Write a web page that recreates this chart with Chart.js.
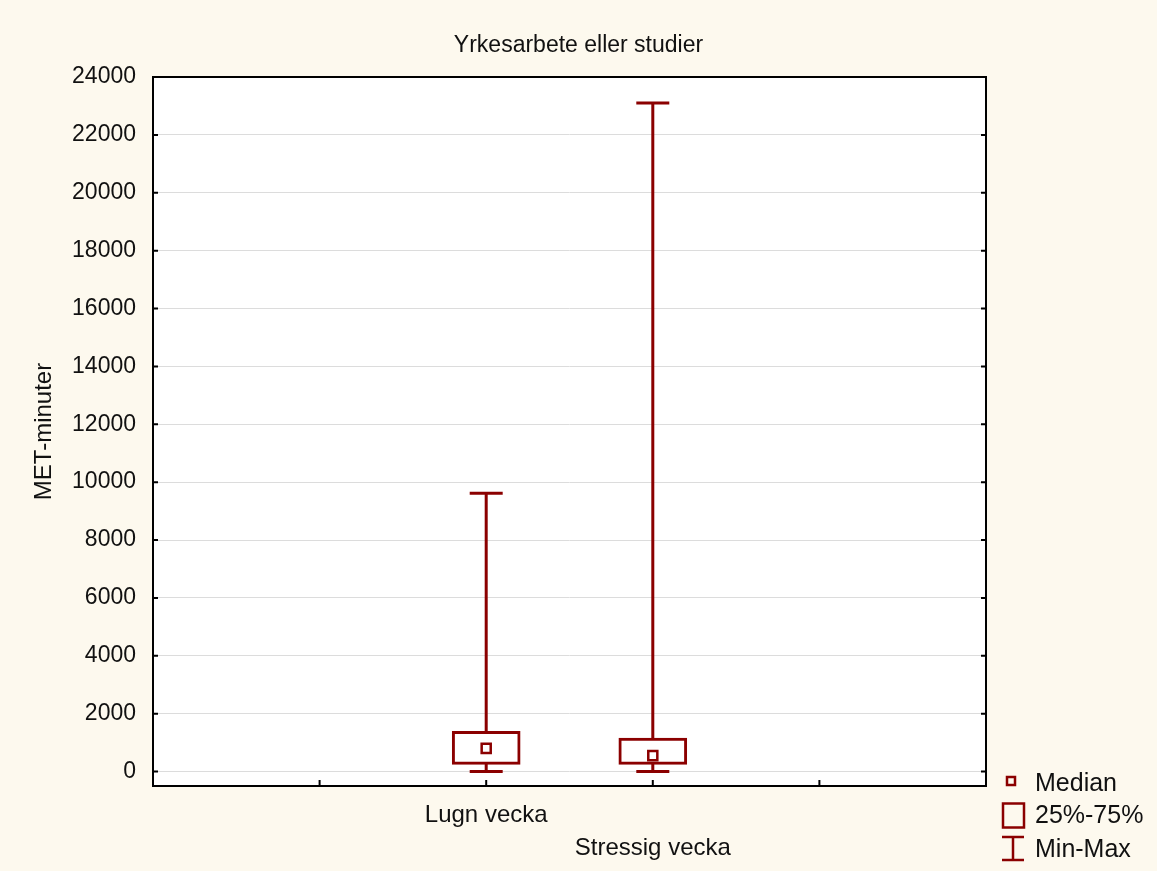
<!DOCTYPE html>
<html>
<head>
<meta charset="utf-8">
<script src="https://cdn.jsdelivr.net/npm/chart.js@4/dist/chart.umd.min.js"></script>
<style>
  html, body { margin: 0; padding: 0; background: #fdf9ee; }
  #wrap { position: relative; width: 1157px; height: 871px; }
  #icons { position: absolute; left: 0; top: 0; pointer-events: none; }
  .item { position: absolute; left: 1035px; font-family: "Liberation Sans", Arial, sans-serif;
          font-size: 25px; line-height: 25px; color: #111; white-space: nowrap; }
</style>
</head>
<body>
<div id="wrap">
  <canvas id="chart" width="1157" height="871"></canvas>
  <svg id="icons" width="1157" height="871">
    <rect x="1007" y="777" width="8" height="8" fill="none" stroke="#8b0000" stroke-width="2.5"/>
    <rect x="1003" y="803.5" width="21" height="24" fill="none" stroke="#8b0000" stroke-width="2.5"/>
    <line x1="1002" y1="837" x2="1024" y2="837" stroke="#8b0000" stroke-width="2.5"/>
    <line x1="1002" y1="860" x2="1024" y2="860" stroke="#8b0000" stroke-width="2.5"/>
    <line x1="1013" y1="837" x2="1013" y2="860" stroke="#8b0000" stroke-width="2.5"/>
  </svg>
  <div class="item" style="top:770px">Median</div>
  <div class="item" style="top:802px">25%-75%</div>
  <div class="item" style="top:836px">Min-Max</div>
</div>
<script>
// data
const categories = ['Lugn vecka', 'Stressig vecka'];
const catPos = [2, 3];
const minVals = [0, 0];
const q1Vals = [250, 250];
const medianVals = [800, 550];
const q3Vals = [1390, 1160];
const maxVals = [9620, 23100];
const yTicks = [0, 2000, 4000, 6000, 8000, 10000, 12000, 14000, 16000, 18000, 20000, 22000, 24000];
const xTickPos = [1, 2, 3, 4];

const RED = '#8b0000';
const FONT = '"Liberation Sans", Arial, sans-serif';

// whiskers: one line per category, caps drawn as 'line' points
const whiskers = catPos.map((x, i) => ({
    type: 'line',
    order: 2,
    data: [{ x: x, y: minVals[i] }, { x: x, y: maxVals[i] }],
    borderColor: RED,
    borderWidth: 3,
    pointStyle: 'line',
    pointRadius: 16.5,
    pointBorderWidth: 3,
    pointBorderColor: RED,
    fill: false
}));

const frame = {
    id: 'frame',
    beforeDraw(chart) {
        const { ctx, chartArea: a } = chart;
        ctx.save();
        ctx.fillStyle = '#ffffff';
        ctx.fillRect(a.left, a.top, a.right - a.left, a.bottom - a.top);
        ctx.restore();
    },
    afterDraw(chart) {
        const { ctx, chartArea: a, scales } = chart;
        ctx.save();
        ctx.strokeStyle = '#000';
        ctx.lineWidth = 2;
        ctx.strokeRect(a.left, a.top, a.right - a.left, a.bottom - a.top);
        ctx.beginPath();
        yTicks.forEach(v => {
            const py = scales.y.getPixelForValue(v);
            ctx.moveTo(a.left, py); ctx.lineTo(a.left + 5, py);
            ctx.moveTo(a.right, py); ctx.lineTo(a.right - 5, py);
        });
        xTickPos.forEach(v => {
            const px = scales.x.getPixelForValue(v);
            ctx.moveTo(px, a.bottom); ctx.lineTo(px, a.bottom - 6);
        });
        ctx.stroke();
        ctx.restore();
    }
};

new Chart(document.getElementById('chart'), {
    type: 'bar',
    data: {
        datasets: [
            {
                type: 'line',
                order: 0,
                showLine: false,
                data: catPos.map((x, i) => ({ x: x, y: medianVals[i] })),
                pointStyle: 'rect',
                pointRadius: 6.4,
                pointBorderWidth: 2.5,
                pointBorderColor: RED,
                pointBackgroundColor: '#ffffff'
            },
            {
                type: 'bar',
                order: 1,
                data: catPos.map((x, i) => ({ x: x, y: [q1Vals[i], q3Vals[i]] })),
                barThickness: 68,
                borderWidth: 3,
                borderColor: RED,
                backgroundColor: '#ffffff',
                borderSkipped: false
            },
            ...whiskers
        ]
    },
    options: {
        responsive: false,
        animation: false,
        events: [],
        layout: { padding: 0 },
        plugins: {
            legend: { display: false },
            tooltip: { enabled: false },
            title: {
                display: true,
                text: 'Yrkesarbete eller studier',
                color: '#111',
                font: { family: FONT, size: 23, weight: 'normal' },
                padding: { top: 32, bottom: 17.4 }
            }
        },
        scales: {
            x: {
                type: 'linear',
                min: 0,
                max: 5,
                offset: false,
                grid: { display: false, offset: false },
                border: { display: false },
                afterBuildTicks: s => { s.ticks = [0, 1, 2, 3, 4, 5].map(v => ({ value: v })); },
                afterFit: s => { s.height = 85; },
                ticks: {
                    autoSkip: false,
                    maxRotation: 0,
                    padding: 5,
                    color: '#111',
                    font: { family: FONT, size: 24, lineHeight: 1.375 },
                    callback: v => {
                        const i = catPos.indexOf(v);
                        if (i < 0) return '';
                        return i % 2 ? ['', categories[i]] : categories[i];
                    }
                }
            },
            y: {
                min: -500,
                max: 24000,
                grid: { color: '#dcdcdc', lineWidth: 1, drawTicks: false },
                border: { display: false },
                afterBuildTicks: s => { s.ticks = yTicks.map(v => ({ value: v })); },
                afterFit: s => { s.width = 153; },
                ticks: {
                    padding: 17,
                    color: '#111',
                    font: { family: FONT, size: 23 },
                    callback: v => String(v)
                },
                title: {
                    display: true,
                    text: 'MET-minuter',
                    color: '#111',
                    font: { family: FONT, size: 24 },
                    padding: { top: 30, bottom: 0 }
                }
            },
            // empty right-hand strip that keeps room for the legend
            yRight: {
                position: 'right',
                min: -500,
                max: 24000,
                grid: { display: false },
                border: { display: false },
                ticks: { display: false },
                afterFit: s => { s.width = 171; }
            }
        }
    },
    plugins: [frame]
});
</script>
</body>
</html>
